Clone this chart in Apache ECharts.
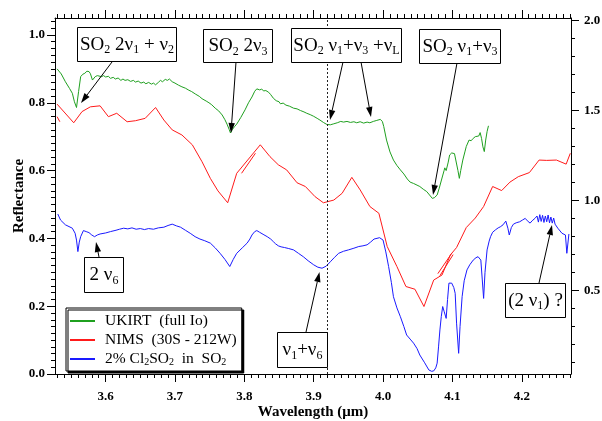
<!DOCTYPE html>
<html><head><meta charset="utf-8">
<script src="https://cdn.jsdelivr.net/npm/echarts@6/dist/echarts.min.js"></script>
<style>html,body{margin:0;padding:0;background:#fff}#c{width:602px;height:421px}</style>
</head><body><div id="c"></div>
<script>
// ---- tick labels ----
const xMajorTicks = [3.6, 3.7, 3.8, 3.9, 4.0, 4.1, 4.2];
const yLeftTicks = [0.0, 0.2, 0.4, 0.6, 0.8, 1.0];
const yRightTicks = [0.5, 1.0, 1.5, 2.0];
const seriesNames = ['UKIRT  (full Io)', 'NIMS  (30S - 212W)', '2% Cl2SO2  in  SO2'];
const markerWavelength = 3.915;

// ---- UKIRT (full Io) ----
const ukirt = [
[3.530,0.900],[3.536,0.885],[3.542,0.862],[3.548,0.842],[3.552,0.828],[3.555,0.803],[3.558,0.786],
[3.561,0.833],[3.564,0.877],[3.567,0.884],[3.570,0.887],[3.573,0.893],[3.576,0.892],[3.578,0.886],
[3.581,0.867],[3.583,0.872],[3.585,0.877],[3.588,0.880],[3.590,0.882],[3.594,0.877],[3.597,0.880],
[3.600,0.876],[3.604,0.878],[3.607,0.872],[3.611,0.875],[3.614,0.870],[3.618,0.873],[3.622,0.866],
[3.625,0.870],[3.628,0.866],[3.632,0.868],[3.636,0.863],[3.640,0.866],[3.643,0.861],[3.647,0.864],
[3.651,0.858],[3.655,0.861],[3.658,0.856],[3.662,0.860],[3.666,0.855],[3.669,0.858],[3.672,0.853],
[3.676,0.860],[3.679,0.866],[3.682,0.862],[3.686,0.869],[3.689,0.866],[3.692,0.870],[3.696,0.862],
[3.700,0.858],[3.705,0.852],[3.710,0.847],[3.715,0.843],[3.720,0.837],[3.724,0.833],[3.730,0.825],
[3.735,0.819],[3.739,0.812],[3.745,0.805],[3.749,0.800],[3.753,0.794],[3.758,0.784],[3.763,0.776],
[3.768,0.764],[3.772,0.750],[3.775,0.737],[3.778,0.722],[3.780,0.711],[3.783,0.722],[3.786,0.730],
[3.789,0.737],[3.795,0.757],[3.801,0.779],[3.806,0.800],[3.811,0.817],[3.815,0.834],[3.818,0.841],
[3.822,0.838],[3.825,0.840],[3.828,0.835],[3.831,0.836],[3.835,0.831],[3.838,0.824],[3.842,0.813],
[3.846,0.806],[3.850,0.803],[3.852,0.797],[3.856,0.799],[3.860,0.793],[3.865,0.790],[3.871,0.784],
[3.876,0.782],[3.881,0.777],[3.886,0.773],[3.890,0.769],[3.895,0.765],[3.900,0.760],[3.905,0.754],
[3.909,0.749],[3.914,0.742],[3.919,0.736],[3.924,0.735],[3.929,0.738],[3.934,0.741],[3.939,0.745],
[3.943,0.743],[3.948,0.745],[3.953,0.742],[3.958,0.744],[3.962,0.741],[3.967,0.744],[3.972,0.740],
[3.977,0.743],[3.981,0.741],[3.986,0.745],[3.991,0.748],[3.996,0.751],[3.999,0.745],[4.001,0.730],
[4.005,0.690],[4.010,0.655],[4.015,0.631],[4.020,0.615],[4.025,0.602],[4.030,0.590],[4.035,0.575],
[4.039,0.566],[4.044,0.562],[4.049,0.557],[4.053,0.553],[4.058,0.545],[4.063,0.538],[4.067,0.528],
[4.071,0.518],[4.074,0.520],[4.078,0.528],[4.081,0.548],[4.085,0.578],[4.088,0.600],[4.089,0.608],
[4.091,0.600],[4.094,0.625],[4.096,0.646],[4.099,0.652],[4.101,0.653],[4.103,0.650],[4.105,0.646],
[4.108,0.600],[4.110,0.577],[4.112,0.600],[4.115,0.631],[4.118,0.655],[4.120,0.671],[4.124,0.690],
[4.127,0.688],[4.130,0.695],[4.133,0.700],[4.135,0.705],[4.138,0.702],[4.140,0.712],[4.142,0.695],
[4.144,0.670],[4.146,0.656],[4.148,0.690],[4.150,0.715],[4.152,0.732]
];

// ---- NIMS (30S - 212W) ----
const nims = [
[3.530,0.796],[3.554,0.741],[3.566,0.774],[3.578,0.788],[3.592,0.791],[3.604,0.759],[3.616,0.769],
[3.631,0.744],[3.643,0.747],[3.657,0.754],[3.672,0.786],[3.684,0.749],[3.696,0.720],[3.710,0.705],
[3.725,0.676],[3.739,0.626],[3.751,0.577],[3.762,0.540],[3.776,0.505],[3.789,0.592],[3.823,0.676],
[3.837,0.641],[3.849,0.617],[3.861,0.602],[3.876,0.564],[3.888,0.553],[3.902,0.523],[3.914,0.505],
[3.929,0.513],[3.941,0.533],[3.955,0.580],[3.967,0.543],[3.981,0.494],[3.994,0.474],[4.006,0.376],
[4.020,0.317],[4.033,0.258],[4.046,0.250],[4.059,0.199],[4.073,0.277],[4.085,0.292],[4.097,0.351],
[4.106,0.373],[4.120,0.432],[4.133,0.460],[4.145,0.494],[4.158,0.553],[4.171,0.541],[4.183,0.566],
[4.195,0.582],[4.211,0.594],[4.225,0.631],[4.236,0.630],[4.250,0.631],[4.264,0.619],[4.270,0.651]
];
const nimsFragA = [[3.530,0.759],[3.534,0.744]];
const nimsFragB = [[3.796,0.592],[3.816,0.651]];
const nimsFragC = [[4.079,0.296],[4.099,0.356]];
const nimsFragD = [[4.082,0.290],[4.101,0.352]];

// ---- 2% Cl2SO2 in SO2 ----
const lab = [
[3.531,0.472],[3.535,0.454],[3.542,0.440],[3.552,0.430],[3.556,0.415],[3.558,0.395],[3.560,0.361],
[3.562,0.389],[3.564,0.405],[3.568,0.423],[3.572,0.420],[3.576,0.417],[3.580,0.410],[3.584,0.405],
[3.588,0.410],[3.592,0.413],[3.600,0.416],[3.607,0.420],[3.615,0.424],[3.620,0.427],[3.626,0.430],
[3.632,0.428],[3.638,0.431],[3.644,0.427],[3.650,0.429],[3.656,0.426],[3.662,0.429],[3.669,0.427],
[3.676,0.431],[3.684,0.433],[3.690,0.438],[3.696,0.442],[3.702,0.437],[3.708,0.433],[3.715,0.424],
[3.722,0.415],[3.729,0.405],[3.736,0.398],[3.743,0.393],[3.751,0.386],[3.758,0.372],[3.765,0.356],
[3.772,0.338],[3.779,0.317],[3.784,0.338],[3.789,0.356],[3.797,0.372],[3.804,0.386],[3.808,0.398],
[3.811,0.410],[3.815,0.420],[3.818,0.423],[3.822,0.418],[3.827,0.412],[3.833,0.405],[3.838,0.398],
[3.842,0.390],[3.845,0.384],[3.849,0.378],[3.853,0.375],[3.858,0.373],[3.864,0.370],[3.871,0.366],
[3.878,0.356],[3.885,0.346],[3.892,0.334],[3.900,0.322],[3.906,0.315],[3.912,0.312],[3.918,0.318],
[3.924,0.331],[3.930,0.344],[3.936,0.356],[3.943,0.362],[3.950,0.366],[3.958,0.371],[3.965,0.376],
[3.971,0.378],[3.977,0.381],[3.982,0.389],[3.987,0.398],[3.995,0.402],[4.000,0.395],[4.004,0.360],
[4.008,0.317],[4.012,0.270],[4.015,0.228],[4.020,0.195],[4.025,0.169],[4.030,0.140],[4.034,0.115],
[4.039,0.103],[4.044,0.091],[4.049,0.075],[4.053,0.056],[4.060,0.033],[4.066,0.012],[4.070,0.008],
[4.073,0.009],[4.076,0.018],[4.078,0.032],[4.080,0.080],[4.082,0.130],[4.084,0.170],[4.086,0.199],
[4.088,0.185],[4.091,0.164],[4.093,0.220],[4.095,0.268],[4.097,0.272],[4.099,0.268],[4.102,0.255],
[4.104,0.238],[4.106,0.150],[4.109,0.061],[4.111,0.140],[4.114,0.228],[4.117,0.275],[4.121,0.307],
[4.125,0.322],[4.130,0.336],[4.134,0.343],[4.137,0.346],[4.141,0.336],[4.143,0.280],[4.145,0.223],
[4.147,0.300],[4.150,0.366],[4.153,0.392],[4.155,0.405],[4.158,0.418],[4.162,0.425],[4.166,0.431],
[4.169,0.434],[4.173,0.440],[4.177,0.451],[4.180,0.430],[4.182,0.410],[4.185,0.432],[4.188,0.442],
[4.192,0.446],[4.197,0.449],[4.201,0.454],[4.205,0.459],[4.208,0.452],[4.212,0.445],[4.215,0.452],
[4.219,0.459],[4.222,0.466],[4.224,0.448],[4.226,0.470],[4.228,0.450],[4.230,0.468],[4.232,0.447],
[4.234,0.466],[4.236,0.449],[4.238,0.469],[4.240,0.446],[4.242,0.463],[4.244,0.445],[4.246,0.460],
[4.248,0.442],[4.252,0.430],[4.258,0.415],[4.263,0.410],[4.265,0.356],[4.268,0.413]
];

const FONT = 'Liberation Serif';
const xMin = 3.527, xMax = 4.271;
const yMin = 0, yMax = 1.05;
const yRMin = 0.037, yRMax = 2.015;

function rangeTicks(a, b, step) { const out = []; for (let v = a; v <= b + 1e-9; v += step) out.push(Math.round(v * 1000) / 1000); return out; }
const xMinorTicks = rangeTicks(3.53, 4.27, 0.01);
const yLeftMinor = rangeTicks(0.02, 1.04, 0.02);
const yRightMinor = rangeTicks(0.1, 2.0, 0.1);

const tickLabel = { fontFamily: FONT, fontWeight: 'bold', fontSize: 13, color: '#000' };
const blackLine = { color: '#000', width: 1 };

function xAx(pos, major, labels) {
  return {
    type: 'value', min: xMin, max: xMax, position: pos,
    axisLine: { show: major, onZero: false, lineStyle: blackLine },
    axisTick: { show: true, inside: false, length: major ? 8 : 4, customValues: major ? xMajorTicks : xMinorTicks, lineStyle: blackLine },
    axisLabel: labels ? Object.assign({ show: true, customValues: xMajorTicks, margin: 16, formatter: v => v.toFixed(1) }, tickLabel) : { show: false },
    splitLine: { show: false }
  };
}
function yAx(pos, min, max, majorVals, minorVals, major, labels) {
  return {
    type: 'value', min: min, max: max, position: pos,
    axisLine: { show: major, onZero: false, lineStyle: blackLine },
    axisTick: { show: true, inside: false, length: major ? 8 : 4, customValues: major ? majorVals : minorVals, lineStyle: blackLine },
    axisLabel: labels ? Object.assign({ show: true, customValues: majorVals, margin: pos === 'left' ? 10 : 13, formatter: v => v.toFixed(1) }, tickLabel) : { show: false },
    splitLine: { show: false }
  };
}

const xAxes = [xAx('bottom', true, true), xAx('bottom', false, false), xAx('top', true, false), xAx('top', false, false)];
Object.assign(xAxes[0], { name: 'Wavelength (\u03bcm)', nameLocation: 'middle', nameGap: 31, nameMoveOverlap: false, nameTextStyle: { fontFamily: FONT, fontWeight: 'bold', fontSize: 15, color: '#000' } });
const yAxes = [
  yAx('left', yMin, yMax, yLeftTicks, yLeftMinor, true, true),
  yAx('left', yMin, yMax, yLeftTicks, yLeftMinor, false, false),
  yAx('right', yRMin, yRMax, yRightTicks, yRightMinor, true, true),
  yAx('right', yRMin, yRMax, yRightTicks, yRightMinor, false, false)
];
Object.assign(yAxes[0], { name: 'Reflectance', nameLocation: 'middle', nameGap: 28, nameMoveOverlap: false, nameTextStyle: { fontFamily: FONT, fontWeight: 'bold', fontSize: 15, color: '#000' } });

const GREEN = '#1fa01f', RED = '#ff1a1a', BLUE = '#1a1aff';
function lineSeries(name, data, color, extra) {
  return Object.assign({ name: name, type: 'line', data: data, symbol: 'none', showSymbol: false, xAxisIndex: 0, yAxisIndex: 0,
    lineStyle: { color: color, width: 1 }, itemStyle: { color: color }, animation: false, silent: true }, extra || {});
}

// annotations (pixel placement)
const annos = [
  { t: '{n|SO}{s|2}{n| 2\u03bd}{s|1}{n| + \u03bd}{s|2}', x: 77, y: 27, w: 99, h: 34 },
  { t: '{n|SO}{s|2}{n| 2\u03bd}{s|3}', x: 203, y: 29, w: 69, h: 33 },
  { t: '{n|SO}{s|2}{n| \u03bd}{s|1}{n|+\u03bd}{s|3}{n| +\u03bd}{s|L}', x: 291, y: 28, w: 110, h: 34 },
  { t: '{n|SO}{s|2}{n| \u03bd}{s|1}{n|+\u03bd}{s|3}', x: 419, y: 29, w: 81, h: 34 },
  { t: '{n|2 \u03bd}{s|6}', x: 84, y: 257, w: 39, h: 35 },
  { t: '{n|\u03bd}{s|1}{n|+\u03bd}{s|6}', x: 277, y: 332, w: 50, h: 35 },
  { t: '{n|(2 \u03bd}{s|1}{n|) ?}', x: 505, y: 283, w: 60, h: 34 }
];
const arrows = [
  [112, 62, 81, 103], [236, 62, 231, 133], [343, 62, 330, 120], [361, 62, 371, 117],
  [457, 63, 433, 195], [99, 257, 96, 242], [306, 332, 319.5, 272], [539, 283, 552, 225]
];
const rich = {
  n: { fontFamily: FONT, fontSize: 19, color: '#000', lineHeight: 22 },
  s: { fontFamily: FONT, fontSize: 12, color: '#000', lineHeight: 12, verticalAlign: 'bottom', padding: [5, 0, 0, 0] }
};
const graphics = [];
annos.forEach(a => {
  graphics.push({ type: 'rect', shape: { x: a.x + 0.5, y: a.y + 0.5, width: a.w, height: a.h }, style: { fill: '#fff', stroke: '#000', lineWidth: 1 }, z: 100, silent: true });
  graphics.push({ type: 'text', x: a.x + a.w / 2 + 0.5, y: a.y + a.h / 2 + 1, style: { text: a.t, rich: rich, align: 'center', verticalAlign: 'middle' }, z: 101, silent: true });
});
arrows.forEach(([x1, y1, x2, y2]) => {
  const L = 10, W = 3.2;
  const dx = x2 - x1, dy = y2 - y1, len = Math.hypot(dx, dy);
  const ux = dx / len, uy = dy / len;
  const bx = x2 - ux * L, by = y2 - uy * L;
  graphics.push({ type: 'line', shape: { x1: x1, y1: y1, x2: bx, y2: by }, style: { stroke: '#000', lineWidth: 1 }, z: 100, silent: true });
  graphics.push({ type: 'polygon', shape: { points: [[x2, y2], [bx - uy * W, by + ux * W], [bx + uy * W, by - ux * W]] }, style: { fill: '#000' }, z: 100, silent: true });
});

const chart = echarts.init(document.getElementById('c'), null, { renderer: 'canvas' });
chart.setOption({
  animation: false,
  backgroundColor: '#fff',
  grid: { left: 55, right: 31, top: 18, bottom: 47, containLabel: false, outerBoundsMode: 'none' },
  xAxis: xAxes,
  yAxis: yAxes,
  legend: {
    orient: 'vertical', left: 66, top: 308, icon: 'rect', itemWidth: 25, itemHeight: 2, itemGap: 3,
    padding: [5, 5, 4, 4], backgroundColor: '#fff', borderColor: '#000', borderWidth: 1, borderRadius: 0,
    shadowColor: '#000', shadowBlur: 0.5, shadowOffsetX: 2, shadowOffsetY: 2,
    data: seriesNames,
    textStyle: { fontFamily: FONT, fontSize: 15.5, color: '#000', padding: [0, 0, 0, 5],
      rich: { s: { fontFamily: FONT, fontSize: 10, color: '#000', verticalAlign: 'bottom', lineHeight: 10, padding: [4, 0, 0, 0] } } },
    formatter: n => n === seriesNames[2] ? '2% Cl{s|2}SO{s|2}  in  SO{s|2}' : n,
    selectedMode: false
  },
  series: [
    lineSeries(seriesNames[0], ukirt, GREEN),
    lineSeries(seriesNames[1], nims, RED, {
      markLine: { silent: true, symbol: ['none', 'none'], label: { show: false }, animation: false,
        lineStyle: { type: [2, 2], color: '#222', width: 1 }, data: [{ xAxis: markerWavelength }] }
    }),
    lineSeries(seriesNames[2], lab, BLUE),
    lineSeries(seriesNames[1], nimsFragA, RED),
    lineSeries(seriesNames[1], nimsFragB, RED),
    lineSeries(seriesNames[1], nimsFragC, RED),
    lineSeries(seriesNames[1], nimsFragD, RED)
  ],
  graphic: graphics
});
</script></body></html>
